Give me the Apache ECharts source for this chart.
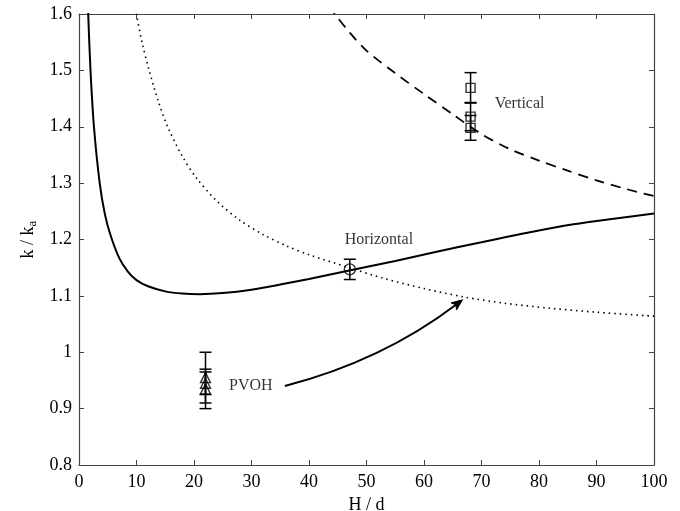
<!DOCTYPE html>
<html>
<head>
<meta charset="utf-8">
<script src="https://cdn.jsdelivr.net/npm/echarts@6/dist/echarts.min.js"></script>
<style>
  html, body { margin: 0; padding: 0; background: #fff; }
  #charts { width: 680px; height: 511px; }
</style>
</head>
<body>
<div id="charts"></div>
<script>
// model curves
let horizX = [1.4, 1.6, 2.0, 2.6, 3.6, 4.5, 5.5, 7, 8.5, 10, 12, 15, 18, 21, 25, 30, 35, 40, 47, 55, 62, 70, 78, 86, 93, 100]
let horizY = [1.66, 1.6, 1.5, 1.4, 1.3, 1.245, 1.207, 1.167, 1.143, 1.128, 1.117, 1.108, 1.104, 1.103, 1.105, 1.111, 1.12, 1.13, 1.145, 1.162, 1.178, 1.195, 1.212, 1.227, 1.237, 1.246]
let dotX = [9.6, 10, 11, 12.2, 13.8, 15.5, 18, 20.5, 24, 28, 32, 36, 40, 47, 53, 60, 67, 74, 82, 90, 100]
let dotY = [1.63, 1.6, 1.548, 1.5, 1.445, 1.398, 1.347, 1.308, 1.268, 1.234, 1.209, 1.189, 1.173, 1.15, 1.131, 1.113, 1.098, 1.087, 1.078, 1.071, 1.064]
let dashX = [43.5, 44.5, 47, 50, 55, 60, 65, 70, 75, 80, 85, 90, 95, 100]
let dashY = [1.615, 1.6, 1.568, 1.535, 1.495, 1.458, 1.422, 1.387, 1.36, 1.34, 1.322, 1.305, 1.29, 1.277]

// measurements with error bars
let vertX = [68.1, 68.1, 68.1]
let vertY = [1.469, 1.418, 1.398]
let vertErr = [0.027, 0.025, 0.022]
let horzX = [47.1]
let horzY = [1.147]
let horzErr = [0.018]
let pvohX = [22, 22, 22]
let pvohY = [0.955, 0.945, 0.935]
let pvohErr = [0.045, 0.02, 0.035]

// annotations
let labelNames = ['Vertical', 'Horizontal', 'PVOH']
let labelX = [72.3, 46.2, 26.1]
let labelY = [1.44, 1.2, 0.94]
let arrowFrom = [35.8, 0.94]
let arrowTo = [66.7, 1.093]

let xTicks = [0, 100, 10]
let yTicks = [0.8, 1.6, 0.1]

const serif = 'Liberation Serif'
const frame = '#444'

function pairs(xs, ys) {
  return xs.map((x, i) => [x, ys[i]])
}

function errorBars(xs, ys, errs) {
  return {
    type: 'custom',
    silent: true,
    z: 3,
    data: xs.map((x, i) => [x, ys[i] - errs[i], ys[i] + errs[i]]),
    encode: { x: 0, y: [1, 2] },
    renderItem(params, api) {
      const lo = api.coord([api.value(0), api.value(1)])
      const hi = api.coord([api.value(0), api.value(2)])
      const w = 6
      const st = { stroke: '#000', lineWidth: 1.5 }
      return {
        type: 'group',
        children: [
          { type: 'line', shape: { x1: hi[0], y1: hi[1], x2: lo[0], y2: lo[1] }, style: st },
          { type: 'line', shape: { x1: hi[0] - w, y1: hi[1], x2: hi[0] + w, y2: hi[1] }, style: st },
          { type: 'line', shape: { x1: lo[0] - w, y1: lo[1], x2: lo[0] + w, y2: lo[1] }, style: st }
        ]
      }
    }
  }
}

function markers(xs, ys, symbol, size) {
  return {
    type: 'scatter',
    symbol: symbol,
    symbolSize: size,
    z: 4,
    silent: true,
    data: pairs(xs, ys),
    itemStyle: { color: 'rgba(255,255,255,0)', borderColor: '#000', borderWidth: 1.4 }
  }
}

function curve(xs, ys, type, width) {
  return {
    type: 'line',
    showSymbol: false,
    smooth: 0.3,
    silent: true,
    data: pairs(xs, ys),
    lineStyle: { color: '#000', width: width, type: type }
  }
}

// curved arrow from the PVOH label to the dotted curve
let arrowSeries = {
  type: 'custom',
  silent: true,
  z: 5,
  data: [[arrowFrom[0], arrowFrom[1], arrowTo[0], arrowTo[1]]],
  encode: { x: [0, 2], y: [1, 3] },
  renderItem(params, api) {
    const p1 = api.coord([api.value(0), api.value(1)])
    const p2 = api.coord([api.value(2), api.value(3)])
    const dx = p2[0] - p1[0], dy = p2[1] - p1[1]
    const cp = [(p1[0] + p2[0]) / 2 - dy * 0.1, (p1[1] + p2[1]) / 2 + dx * 0.1]
    let ux = p2[0] - cp[0], uy = p2[1] - cp[1]
    const len = Math.sqrt(ux * ux + uy * uy)
    ux /= len; uy /= len
    const hl = 11, hw = 4.5
    const base = [p2[0] - ux * hl, p2[1] - uy * hl]
    const notch = [p2[0] - ux * hl * 0.75, p2[1] - uy * hl * 0.75]
    return {
      type: 'group',
      children: [
        {
          type: 'bezierCurve',
          shape: { x1: p1[0], y1: p1[1], x2: notch[0], y2: notch[1], cpx1: cp[0], cpy1: cp[1] },
          style: { stroke: '#000', lineWidth: 2, fill: null }
        },
        {
          type: 'polygon',
          shape: { points: [p2, [base[0] - uy * hw, base[1] + ux * hw], notch, [base[0] + uy * hw, base[1] - ux * hw]] },
          style: { fill: '#000', stroke: '#000', lineWidth: 1 }
        }
      ]
    }
  }
}

let axisCommon = {
  type: 'value',
  axisLine: { show: true, onZero: false, lineStyle: { color: frame, width: 1.2 } },
  axisTick: { show: true, inside: true, length: 5, lineStyle: { color: frame, width: 1 } },
  splitLine: { show: false }
}

let option = {
  animation: false,
  backgroundColor: '#fff',
  grid: { left: 79, right: 26, top: 14, bottom: 46, containLabel: false, outerBoundsMode: 'none' },
  xAxis: [
    Object.assign({}, axisCommon, {
      min: xTicks[0], max: xTicks[1], interval: xTicks[2],
      name: 'H / d',
      nameLocation: 'middle',
      nameGap: 25,
      nameTextStyle: { fontFamily: serif, fontSize: 18, color: '#000' },
      axisLabel: { fontFamily: serif, fontSize: 18, color: '#000', margin: 8 }
    }),
    Object.assign({}, axisCommon, {
      position: 'top',
      min: xTicks[0], max: xTicks[1], interval: xTicks[2],
      axisLabel: { show: false }
    })
  ],
  yAxis: [
    Object.assign({}, axisCommon, {
      min: yTicks[0], max: yTicks[1], interval: yTicks[2],
      name: '{n|k / k}{s|a}',
      nameLocation: 'middle',
      nameGap: 40,
      nameRotate: 90,
      nameTextStyle: {
        fontFamily: serif, fontSize: 18, color: '#000',
        rich: {
          n: { fontFamily: serif, fontSize: 18, color: '#000' },
          s: { fontFamily: serif, fontSize: 13, color: '#000', verticalAlign: 'bottom', padding: [8, 0, 0, 0] }
        }
      },
      axisLabel: {
        fontFamily: serif, fontSize: 18, color: '#000', margin: 7,
        formatter: v => String(+v.toFixed(1))
      }
    }),
    Object.assign({}, axisCommon, {
      position: 'right',
      min: yTicks[0], max: yTicks[1], interval: yTicks[2],
      axisLabel: { show: false }
    })
  ],
  series: [
    curve(horizX, horizY, 'solid', 2),
    curve(dotX, dotY, [1.5, 4], 1.6),
    curve(dashX, dashY, [10, 7], 1.8),
    errorBars(vertX, vertY, vertErr),
    errorBars(horzX, horzY, horzErr),
    errorBars(pvohX, pvohY, pvohErr),
    markers(vertX, vertY, 'rect', 9),
    markers(horzX, horzY, 'circle', 11),
    markers(pvohX, pvohY, 'triangle', 10),
    arrowSeries,
    {
      type: 'scatter',
      symbolSize: 0,
      silent: true,
      z: 5,
      data: labelNames.map((n, i) => ({ name: n, value: [labelX[i], labelY[i]] })),
      label: {
        show: true,
        position: 'right',
        distance: 0,
        formatter: p => p.name,
        fontFamily: serif,
        fontSize: 16,
        color: '#000'
      }
    }
  ]
}

let chartsInstance = echarts.init(document.getElementById('charts'))
chartsInstance.setOption(option)
</script>
</body>
</html>
